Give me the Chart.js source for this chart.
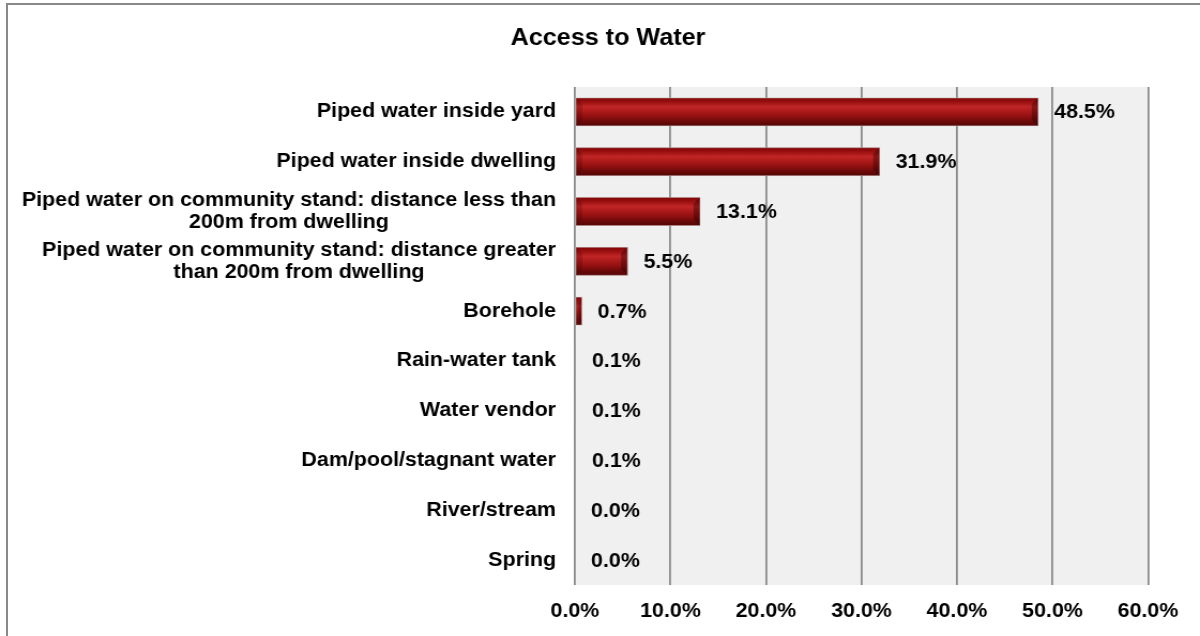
<!DOCTYPE html>
<html>
<head>
<meta charset="utf-8">
<script src="https://cdn.jsdelivr.net/npm/chart.js@4.4.1/dist/chart.umd.min.js"></script>
<style>
  html, body { margin: 0; padding: 0; background: #ffffff; overflow: hidden; width: 1200px; height: 636px; }
  #wrap { position: absolute; left: 0; top: 0; width: 1121px; height: 636px; transform: scaleX(1.070473); transform-origin: 0 0; }
  #frame { position: absolute; left: 6px; top: 3px; width: 1400px; height: 800px; border: 2px solid #888888; pointer-events: none; }
</style>
</head>
<body>
<div id="wrap"><canvas id="c" width="1121" height="636"></canvas></div>
<div id="frame"></div>
<script>
// ---- data ----
const chartTitle = 'Access to Water';
const categories = [
  'Piped water inside yard',
  'Piped water inside dwelling',
  ['Piped water on community stand: distance less than', '200m from dwelling'],
  ['Piped water on community stand: distance greater', 'than 200m from dwelling'],
  'Borehole',
  'Rain-water tank',
  'Water vendor',
  'Dam/pool/stagnant water',
  'River/stream',
  'Spring'
];
const shares = [48.5, 31.9, 13.1, 5.5, 0.7, 0.1, 0.1, 0.1, 0.0, 0.0];
const axisMin = 0;
const axisMax = 60;
const axisStep = 10;

const FONT = '"Liberation Sans", Arial, Helvetica, sans-serif';

const plotBg = {
  id: 'plotBg',
  beforeDraw(chart) {
    const { ctx, chartArea: a } = chart;
    ctx.save();
    ctx.fillStyle = '#ffffff';
    ctx.fillRect(0, 0, chart.width, chart.height);
    ctx.fillStyle = '#f0f0f0';
    ctx.fillRect(a.left, a.top, a.right - a.left, a.bottom - a.top);
    ctx.restore();
  }
};

const barStyle = {
  id: 'barStyle',
  afterDatasetsDraw(chart) {
    const { ctx } = chart;
    const meta = chart.getDatasetMeta(0);
    ctx.save();
    meta.data.forEach((bar) => {
      const p = bar.getProps(['x', 'y', 'base', 'height'], true);
      const left = Math.min(p.base, p.x), right = Math.max(p.base, p.x);
      const top = p.y - p.height / 2, bottom = p.y + p.height / 2;
      const w = right - left;
      if (w <= 0.2) return;
      const g = ctx.createLinearGradient(0, top, 0, bottom);
      g.addColorStop(0.00, '#800909');
      g.addColorStop(0.12, '#960d0d');
      g.addColorStop(0.32, '#c02626');
      g.addColorStop(0.48, '#ad1a1a');
      g.addColorStop(0.68, '#8f1010');
      g.addColorStop(0.86, '#680909');
      g.addColorStop(1.00, '#560606');
      ctx.fillStyle = g;
      ctx.fillRect(left, top, w, bottom - top);
      const bx = Math.min(6, w / 2), by = 6;
      ctx.fillStyle = 'rgba(40,0,0,0.38)';
      ctx.beginPath();
      ctx.moveTo(right, top);
      ctx.lineTo(right - bx, top + by);
      ctx.lineTo(right - bx, bottom - by);
      ctx.lineTo(right, bottom);
      ctx.closePath();
      ctx.fill();
      ctx.fillStyle = 'rgba(40,0,0,0.18)';
      ctx.beginPath();
      ctx.moveTo(left, top);
      ctx.lineTo(left + bx, top + by);
      ctx.lineTo(left + bx, bottom - by);
      ctx.lineTo(left, bottom);
      ctx.closePath();
      ctx.fill();
      ctx.strokeStyle = 'rgba(200,200,200,0.6)';
      ctx.lineWidth = 0.8;
      ctx.strokeRect(left, top, w, bottom - top);
    });
    ctx.restore();
  }
};

const textLayer = {
  id: 'textLayer',
  afterDraw(chart) {
    const { ctx } = chart;
    const yScale = chart.scales.y;
    const meta = chart.getDatasetMeta(0);
    ctx.save();
    ctx.fillStyle = '#000000';
    ctx.font = 'bold 20px ' + FONT;
    ctx.textBaseline = 'middle';
    const xr = chart.chartArea.left - 17.7;
    const lh = 22;
    categories.forEach((lab, i) => {
      const lines = Array.isArray(lab) ? lab : [lab];
      const y = yScale.getPixelForTick(i);
      const maxW = Math.max(...lines.map(l => ctx.measureText(l).width));
      ctx.textAlign = 'center';
      lines.forEach((l, k) => {
        ctx.fillText(l, xr - maxW / 2, y + (k - (lines.length - 1) / 2) * lh);
      });
    });
    ctx.textAlign = 'left';
    meta.data.forEach((bar, i) => {
      const p = bar.getProps(['x', 'y', 'base'], true);
      ctx.fillText(shares[i].toFixed(1) + '%', Math.max(p.x, p.base) + 15, p.y + 1);
    });
    ctx.restore();
  }
};

new Chart(document.getElementById('c'), {
  type: 'bar',
  data: {
    labels: categories,
    datasets: [{
      data: shares,
      backgroundColor: '#9c1414',
      borderWidth: 0,
      barPercentage: 0.56,
      categoryPercentage: 1.0
    }]
  },
  options: {
    indexAxis: 'y',
    responsive: false,
    devicePixelRatio: 1,
    animation: false,
    layout: { padding: { left: 63.6, right: 48.6, top: 0, bottom: 0 } },
    plugins: {
      legend: { display: false },
      tooltip: { enabled: false },
      title: {
        display: true,
        text: chartTitle,
        color: '#000000',
        font: { family: FONT, size: 23.5, weight: 'bold', lineHeight: 1.2 },
        padding: { top: 24.9, bottom: 33.9 }
      }
    },
    scales: {
      x: {
        type: 'linear',
        min: axisMin,
        max: axisMax,
        ticks: {
          stepSize: axisStep,
          color: '#000000',
          font: { family: FONT, size: 20, weight: 'bold' },
          padding: 14,
          maxRotation: 0,
          autoSkip: false,
          callback: (v) => Number(v).toFixed(1) + '%'
        },
        grid: { color: '#8c8c8c', lineWidth: 1.8, drawTicks: false },
        border: { display: false },
        afterFit: (s) => { s.height = 51; }
      },
      y: {
        type: 'category',
        offset: true,
        ticks: { display: false },
        grid: { display: false, drawTicks: false },
        border: { display: false },
        afterFit: (s) => { s.width = 473.5; }
      }
    }
  },
  plugins: [plotBg, barStyle, textLayer]
});
</script>
</body>
</html>
